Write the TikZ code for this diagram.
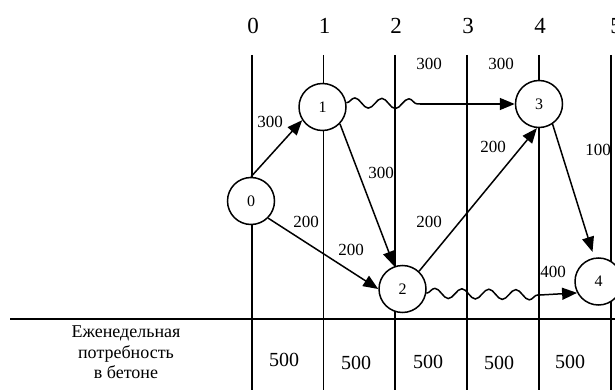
\documentclass[tikz,border=0pt]{standalone}
\usepackage{fontspec}
\setmainfont{Liberation Serif}
\usetikzlibrary{arrows.meta,decorations.pathmorphing}
\begin{document}
\begin{tikzpicture}[x=1pt,y=-1pt,
  vline/.style={line width=1.7pt},
  state/.style={circle, draw, line width=1.5pt, fill=white, minimum size=47pt, inner sep=0pt, font=\fontsize{16}{18}\selectfont},
  lbl/.style={font=\fontsize{17}{19}\selectfont, inner sep=0pt},
  toplbl/.style={font=\fontsize{23}{26}\selectfont, inner sep=0pt},
  val/.style={font=\fontsize{20}{22}\selectfont, inner sep=0pt},
  arr/.style={line width=1.5pt, -{Triangle[length=15pt,width=12pt]}},
  wave/.style={line width=1.5pt, decorate, decoration={snake, amplitude=5pt, segment length=27pt}}]
\useasboundingbox (0,0) rectangle (615,390);
% grid lines
\foreach \i/\x in {0/252,1/323.5,2/395,3/467,4/539,5/611}{
  \coordinate (t\i) at (\x,55);
  \coordinate (b\i) at (\x,390);
  \draw[vline] (t\i) -- (b\i);
}
\coordinate (hl) at (10,319);
\coordinate (hr) at (615,319);
\draw[vline] (hl) -- (hr);
% top labels
\node[toplbl] (k0) at (253,26) {0};
\node[toplbl] (k1) at (324.5,26) {1};
\node[toplbl] (k2) at (396,26) {2};
\node[toplbl] (k3) at (468,26) {3};
\node[toplbl] (k4) at (540,26) {4};
\node[toplbl] (k5) at (616,26) {5};
% events
\node[state] (n0) at (251,201) {0};
\node[state] (n1) at (322.5,107) {1};
\node[state] (n2) at (402.5,289) {2};
\node[state] (n3) at (539,104) {3};
\node[state] (n4) at (598.5,281.5) {4};
% connectors
\draw[arr] (n0.north) -- (n1.213);
\draw[arr] (n0.-45) -- (n2.west);
\draw[arr] (n1.-44) -- (n2.110);
\draw[arr] (n2.47) -- (n3.265);
\draw[arr, shorten >=6pt] (n3.-56) -- (n4.100);
\coordinate (w1) at (420,104);
\draw[wave] (n1.10) -- (w1);
\draw[arr] (w1) -- (n3.west);
\coordinate (w2) at (540,295);
\draw[wave] (n2.-10) -- (w2);
\draw[arr] (w2) -- (n4.208);
% edge labels
\node[lbl] (e1) at (270,122) {300};
\node[lbl] (e2) at (306,222) {200};
\node[lbl] (e3) at (381,173) {300};
\node[lbl] (e4) at (351,250) {200};
\node[lbl] (e5) at (429,64) {300};
\node[lbl] (e6) at (501,64) {300};
\node[lbl] (e7) at (493,147) {200};
\node[lbl] (e8) at (429,222) {200};
\node[lbl] (e9) at (598,150) {100};
\node[lbl] (e10) at (553,272) {400};
% table
\node[font=\fontsize{18}{20.5}\selectfont, align=center, inner sep=0pt] (lab) at (126,352.5) {Еженедельная\\потребность\\в бетоне};
\node[val] (v1) at (284,360) {500};
\node[val] (v2) at (356,363) {500};
\node[val] (v3) at (428,362) {500};
\node[val] (v4) at (499,363) {500};
\node[val] (v5) at (570,362) {500};
\end{tikzpicture}
\end{document}
